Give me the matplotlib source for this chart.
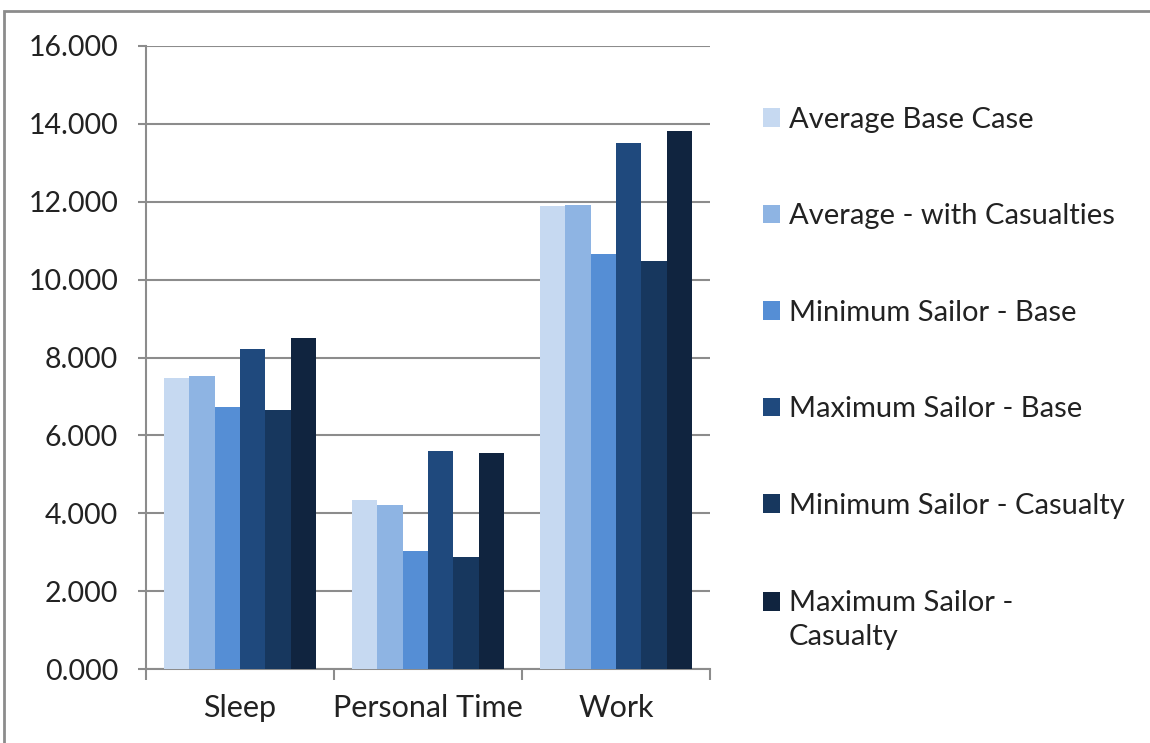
import matplotlib
matplotlib.use("Agg")
import matplotlib.pyplot as plt
from matplotlib.patches import Rectangle, Patch
from matplotlib.legend_handler import HandlerPatch
import numpy as np

categories = ["Sleep", "Personal Time", "Work"]
series_names = [
    "Average Base Case",
    "Average - with Casualties",
    "Minimum Sailor - Base",
    "Maximum Sailor - Base",
    "Minimum Sailor - Casualty",
    "Maximum Sailor -\nCasualty",
]
avg_base = [7.47, 4.33, 11.88]
avg_casualties = [7.52, 4.20, 11.92]
min_base = [6.73, 3.03, 10.67]
max_base = [8.23, 5.59, 13.50]
min_casualty = [6.65, 2.88, 10.47]
max_casualty = [8.49, 5.54, 13.81]
series_values = [avg_base, avg_casualties, min_base, max_base, min_casualty, max_casualty]
colors = ["#C6D9F1", "#8EB4E3", "#558ED5", "#1F497D", "#17375E", "#10243F"]
yticks = [0, 2, 4, 6, 8, 10, 12, 14, 16]

plt.rcParams["font.family"] = ["Lato", "DejaVu Sans"]
FS_Y = 20.5
FS_X = 22
FS_LEG = 21
GRAY = "#8c8c8c"
TXT = "#222222"

fig = plt.figure(figsize=(11.5, 7.43), dpi=100)
ax = fig.add_axes([146 / 1150, 1 - 669 / 743, 564 / 1150, 623 / 743])

n = len(series_values)
group_w = 0.81
bar_w = group_w / n
x = np.arange(len(categories))
for i, (vals, c) in enumerate(zip(series_values, colors)):
    ax.bar(x - group_w / 2 + bar_w * (i + 0.5), vals, width=bar_w, color=c,
           zorder=3, linewidth=0)

ax.set_xlim(-0.5, len(categories) - 0.5)
ax.set_ylim(0, 16)
ax.set_yticks(yticks)
ax.set_yticklabels([f"{v:.3f}" for v in yticks], fontsize=FS_Y, color=TXT)
ax.yaxis.grid(True, color=GRAY, linewidth=1.5, zorder=0)
ax.tick_params(axis="y", length=6, width=1.5, color=GRAY, pad=14)

ax.set_xticks(np.arange(len(categories) + 1) - 0.5)
ax.set_xticklabels([])
ax.set_xticks(x, minor=True)
ax.set_xticklabels(categories, minor=True, fontsize=FS_X, color=TXT)
ax.tick_params(axis="x", which="major", length=8, width=1.5, color=GRAY)
ax.tick_params(axis="x", which="minor", length=0, pad=18)

for s in ["top", "right"]:
    ax.spines[s].set_visible(False)
for s in ["left", "bottom"]:
    ax.spines[s].set_color(GRAY)
    ax.spines[s].set_linewidth(1.5)


class TopLinePatch(HandlerPatch):
    """Square swatch aligned with the first line of a two-line label."""

    def __init__(self, shift, **kw):
        super().__init__(**kw)
        self.shift = shift

    def create_artists(self, legend, orig_handle, xdescent, ydescent,
                       width, height, fontsize, trans):
        arts = super().create_artists(legend, orig_handle, xdescent, ydescent,
                                      width, height, fontsize, trans)
        for a in arts:
            a.set_y(a.get_y() + self.shift)
        return arts


handles = [Patch(facecolor=c, edgecolor="none") for c in colors]
handler_map = {handles[-1]: TopLinePatch(shift=13.3)}
leg = fig.legend(handles, series_names, loc="upper left",
                 bbox_to_anchor=(751 / 1150, 1 - 95 / 743),
                 frameon=False, fontsize=FS_LEG, handlelength=0.6, handleheight=0.6,
                 handletextpad=0.3, labelspacing=2.42, borderaxespad=0,
                 handler_map=handler_map)
for t in leg.get_texts():
    t.set_color(TXT)
    t.set_linespacing(1.41)

# outer chart border
fig.patches.append(Rectangle((4 / 1150, -0.1), 1.2, 1 - 11 / 743 + 0.1,
                             transform=fig.transFigure, fill=False,
                             edgecolor=GRAY, linewidth=2))

fig.savefig("out.png", dpi=100)
